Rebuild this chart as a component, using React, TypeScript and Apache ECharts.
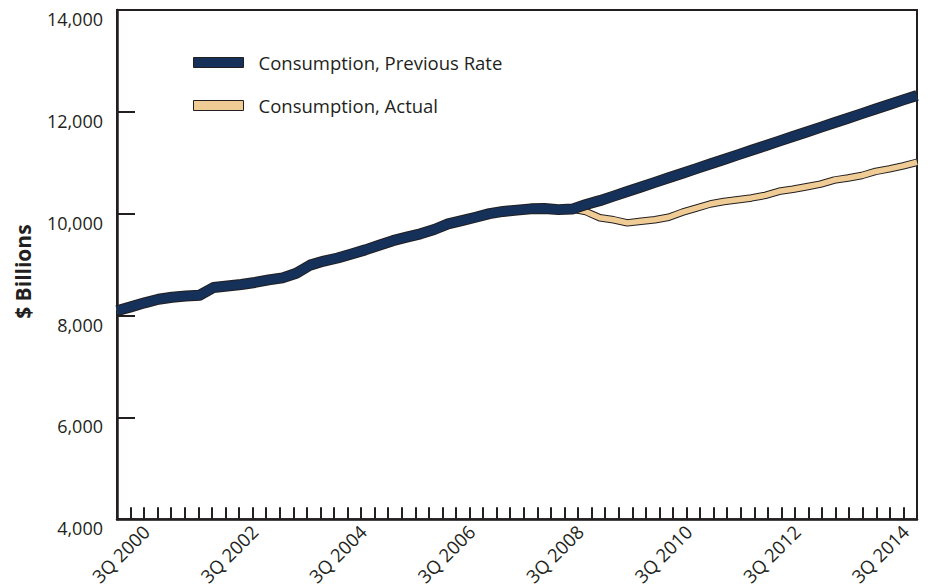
import React, { useEffect, useRef } from "react";
import * as echarts from "echarts";

// Quarters from 1Q 2000 through 3Q 2014
const years = [2000, 2001, 2002, 2003, 2004, 2005, 2006, 2007, 2008, 2009, 2010, 2011, 2012, 2013, 2014];
const quarters: string[] = [];
years.forEach((y) => {
  [1, 2, 3, 4].forEach((q) => {
    if (y === 2014 && q > 3) return;
    quarters.push(`${q}Q ${y}`);
  });
});

// Consumption, actual ($ billions)
const actual = [
  8094, 8170, 8250, 8320, 8360, 8385, 8400, 8550, 8580, 8610,
  8650, 8700, 8740, 8830, 8990, 9070, 9130, 9210, 9290, 9380,
  9470, 9540, 9605, 9690, 9800, 9865, 9930, 10000, 10045, 10070,
  10095, 10100, 10080, 10090, 10040, 9920, 9880, 9820, 9850, 9880,
  9930, 10030, 10110, 10190, 10240, 10275, 10310, 10360, 10440, 10480,
  10530, 10580, 10660, 10700, 10750, 10830, 10880, 10940, 11010,
];

// Consumption at previous growth rate, from 2Q 2008 onward
const projectedStart = 33;
const projected = [
  10090, 10180, 10256, 10345, 10435, 10525, 10615, 10705, 10795, 10885,
  10975, 11065, 11155, 11245, 11335, 11425, 11515, 11605, 11695, 11785,
  11875, 11965, 12055, 12145, 12235, 12320,
];

const previousRate = actual.slice(0, projectedStart).concat(projected);

const NAVY = "#15315a";
const BEIGE = "#efcc96";
const INK = "#231f20";
const FONT = "'Open Sans', 'Noto Sans', sans-serif";

export default function App() {
  const ref = useRef<HTMLDivElement>(null);
  useEffect(() => {
    if (!ref.current) return;
    const chart = echarts.init(ref.current, undefined, { renderer: "svg" });
    chart.setOption({
      animation: false,
      backgroundColor: "#ffffff",
      textStyle: { fontFamily: FONT, color: INK },
      grid: {
        left: 117,
        right: 11,
        top: 10,
        bottom: 66,
        show: true,
        borderColor: INK,
        borderWidth: 2,
      },
      legend: {
        orient: "vertical",
        left: 188,
        top: 48,
        itemGap: 24,
        itemWidth: 50,
        itemHeight: 10,
        icon: "rect",
        selectedMode: false,
        textStyle: { fontFamily: FONT, fontSize: 18.5, color: INK, padding: [0, 0, 0, 10] },
        data: [
          {
            name: "Consumption, Previous Rate",
            itemStyle: { color: NAVY, borderColor: INK, borderWidth: 1 },
          },
          {
            name: "Consumption, Actual",
            itemStyle: { color: BEIGE, borderColor: INK, borderWidth: 1 },
          },
        ],
      },
      xAxis: [
        {
          type: "category",
          data: quarters,
          boundaryGap: true,
          axisLine: { lineStyle: { color: INK, width: 2.5 } },
          axisTick: {
            show: true,
            inside: true,
            length: 12,
            interval: 0,
            lineStyle: { color: INK, width: 2 },
          },
          axisLabel: {
            interval: (idx: number) => (idx - 2) % 8 === 0,
            rotate: 45,
            margin: 4,
            padding: [0, 7, 0, 0],
            fontSize: 18.5,
            fontFamily: FONT,
            color: INK,
          },
          splitLine: { show: false },
        },
        {
          type: "category",
          data: quarters,
          boundaryGap: false,
          show: false,
        },
      ],
      yAxis: {
        type: "value",
        min: 4000,
        max: 14000,
        interval: 2000,
        name: "$ Billions",
        nameLocation: "middle",
        nameGap: 84,
        nameRotate: 90,
        nameTextStyle: {
          fontFamily: FONT,
          fontSize: 21,
          fontWeight: "bold",
          color: INK,
          padding: [0, 14, 0, 0],
        },
        axisLine: { show: true, lineStyle: { color: INK, width: 2.5 } },
        axisTick: { show: true, inside: true, length: 18, lineStyle: { color: INK, width: 2 } },
        axisLabel: {
          margin: 14,
          fontSize: 18,
          fontFamily: FONT,
          color: INK,
          verticalAlign: "top",
          formatter: (v: number) => v.toLocaleString("en-US"),
        },
        splitLine: { show: false },
      },
      series: [
        {
          name: "actualOutline",
          type: "line",
          xAxisIndex: 1,
          data: actual,
          symbol: "none",
          silent: true,
          lineStyle: { color: INK, width: 7.5, join: "round" },
        },
        {
          name: "Consumption, Actual",
          type: "line",
          xAxisIndex: 1,
          data: actual,
          symbol: "none",
          itemStyle: { color: BEIGE },
          lineStyle: { color: BEIGE, width: 5.5, join: "round" },
        },
        {
          name: "prevOutline",
          type: "line",
          xAxisIndex: 1,
          data: previousRate,
          symbol: "none",
          silent: true,
          lineStyle: { color: INK, width: 11, join: "round" },
        },
        {
          name: "Consumption, Previous Rate",
          type: "line",
          xAxisIndex: 1,
          data: previousRate,
          symbol: "none",
          itemStyle: { color: NAVY },
          lineStyle: { color: NAVY, width: 9, join: "round" },
        },
      ],
    });
    return () => chart.dispose();
  }, []);
  return (
    <div
      ref={ref}
      style={{ position: "fixed", left: 0, top: 0, width: 928, height: 588, background: "#fff" }}
    />
  );
}
